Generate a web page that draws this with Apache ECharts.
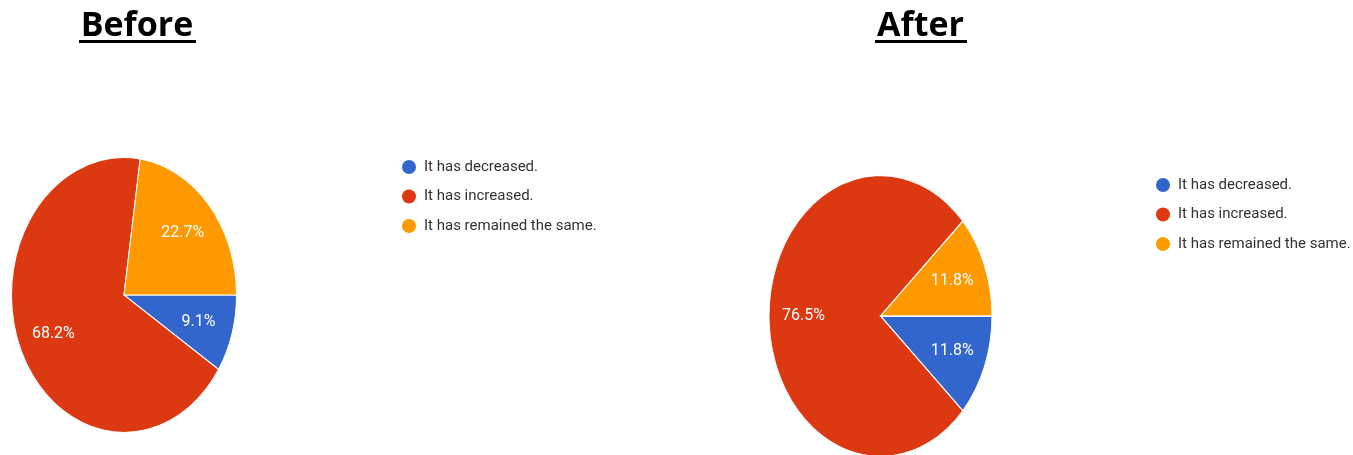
<!DOCTYPE html>
<html>
<head>
<meta charset="utf-8">
<script src="https://cdn.jsdelivr.net/npm/echarts@6/dist/echarts.min.js"></script>
<style>
html, body { margin: 0; padding: 0; background: #fff; }
#chart { width: 1353px; height: 455px; }
</style>
</head>
<body>
<div id="chart"></div>
<script>
// data
const categories = ['It has decreased.', 'It has increased.', 'It has remained the same.'];
const colors = ['#3366cc', '#dc3912', '#ff9900'];
const beforeValues = [9.1, 68.2, 22.7];
const afterValues = [11.8, 76.5, 11.8];
const titles = ['Before', 'After'];

// the pies are drawn a bit taller than wide, like in the screenshot
const pies = [
    {cx: 124, cy: 295, r: 112.5, sy: 1.222, titleX: 137, lineX: 79, lineW: 117},
    {cx: 880.5, cy: 316, r: 111.5, sy: 1.26, titleX: 920.5, lineX: 875, lineW: 92}
];

function makeSeries(values, pie) {
    const total = values.reduce((a, b) => a + b, 0);
    let acc = 0;
    return values.map((v, k) => {
        const start = acc / total * Math.PI * 2;
        acc += v;
        const end = acc / total * Math.PI * 2;
        return {
            type: 'custom',
            name: categories[k],
            coordinateSystem: 'none',
            itemStyle: {color: colors[k]},
            data: [[v, start, end]],
            renderItem: (params, api) => {
                const a0 = api.value(1), a1 = api.value(2);
                const mid = (a0 + a1) / 2;
                const lr = pie.r * 0.69;
                return {
                    type: 'group',
                    children: [
                        {
                            type: 'sector',
                            x: pie.cx, y: pie.cy, scaleY: pie.sy,
                            shape: {cx: 0, cy: 0, r: pie.r, r0: 0, startAngle: a0, endAngle: a1, clockwise: true},
                            style: {fill: api.visual('color'), stroke: '#fff', lineWidth: 1}
                        },
                        {
                            type: 'text',
                            x: pie.cx + Math.cos(mid) * lr,
                            y: pie.cy + Math.sin(mid) * lr * pie.sy,
                            style: {
                                text: api.value(0).toFixed(1) + '%',
                                fill: '#fff',
                                font: '16px Roboto',
                                align: 'center',
                                verticalAlign: 'middle'
                            }
                        }
                    ]
                };
            }
        };
    });
}

const legendBase = {
    orient: 'vertical',
    padding: 0,
    icon: 'circle',
    itemWidth: 14,
    itemHeight: 14,
    itemGap: 14.5,
    textStyle: {fontSize: 15, color: '#333', fontFamily: 'Roboto', padding: [0, 0, 0, 3]},
    data: categories
};

const graphics = [];
titles.forEach((t, i) => {
    graphics.push({
        type: 'text',
        x: pies[i].titleX, y: 26,
        style: {text: t, font: 'bold 34px "Open Sans"', fill: '#000', align: 'center', verticalAlign: 'middle'}
    });
    graphics.push({
        type: 'rect',
        shape: {x: pies[i].lineX, y: 40, width: pies[i].lineW, height: 3},
        style: {fill: '#000'}
    });
});

const chart = echarts.init(document.getElementById('chart'));
const option = {
    animation: false,
    backgroundColor: '#fff',
    legend: [
        Object.assign({}, legendBase, {left: 402, top: 159.5}),
        Object.assign({}, legendBase, {left: 1156, top: 177.5})
    ],
    graphic: graphics,
    series: makeSeries(beforeValues, pies[0]).concat(makeSeries(afterValues, pies[1]))
};
chart.setOption(option);
</script>
</body>
</html>
